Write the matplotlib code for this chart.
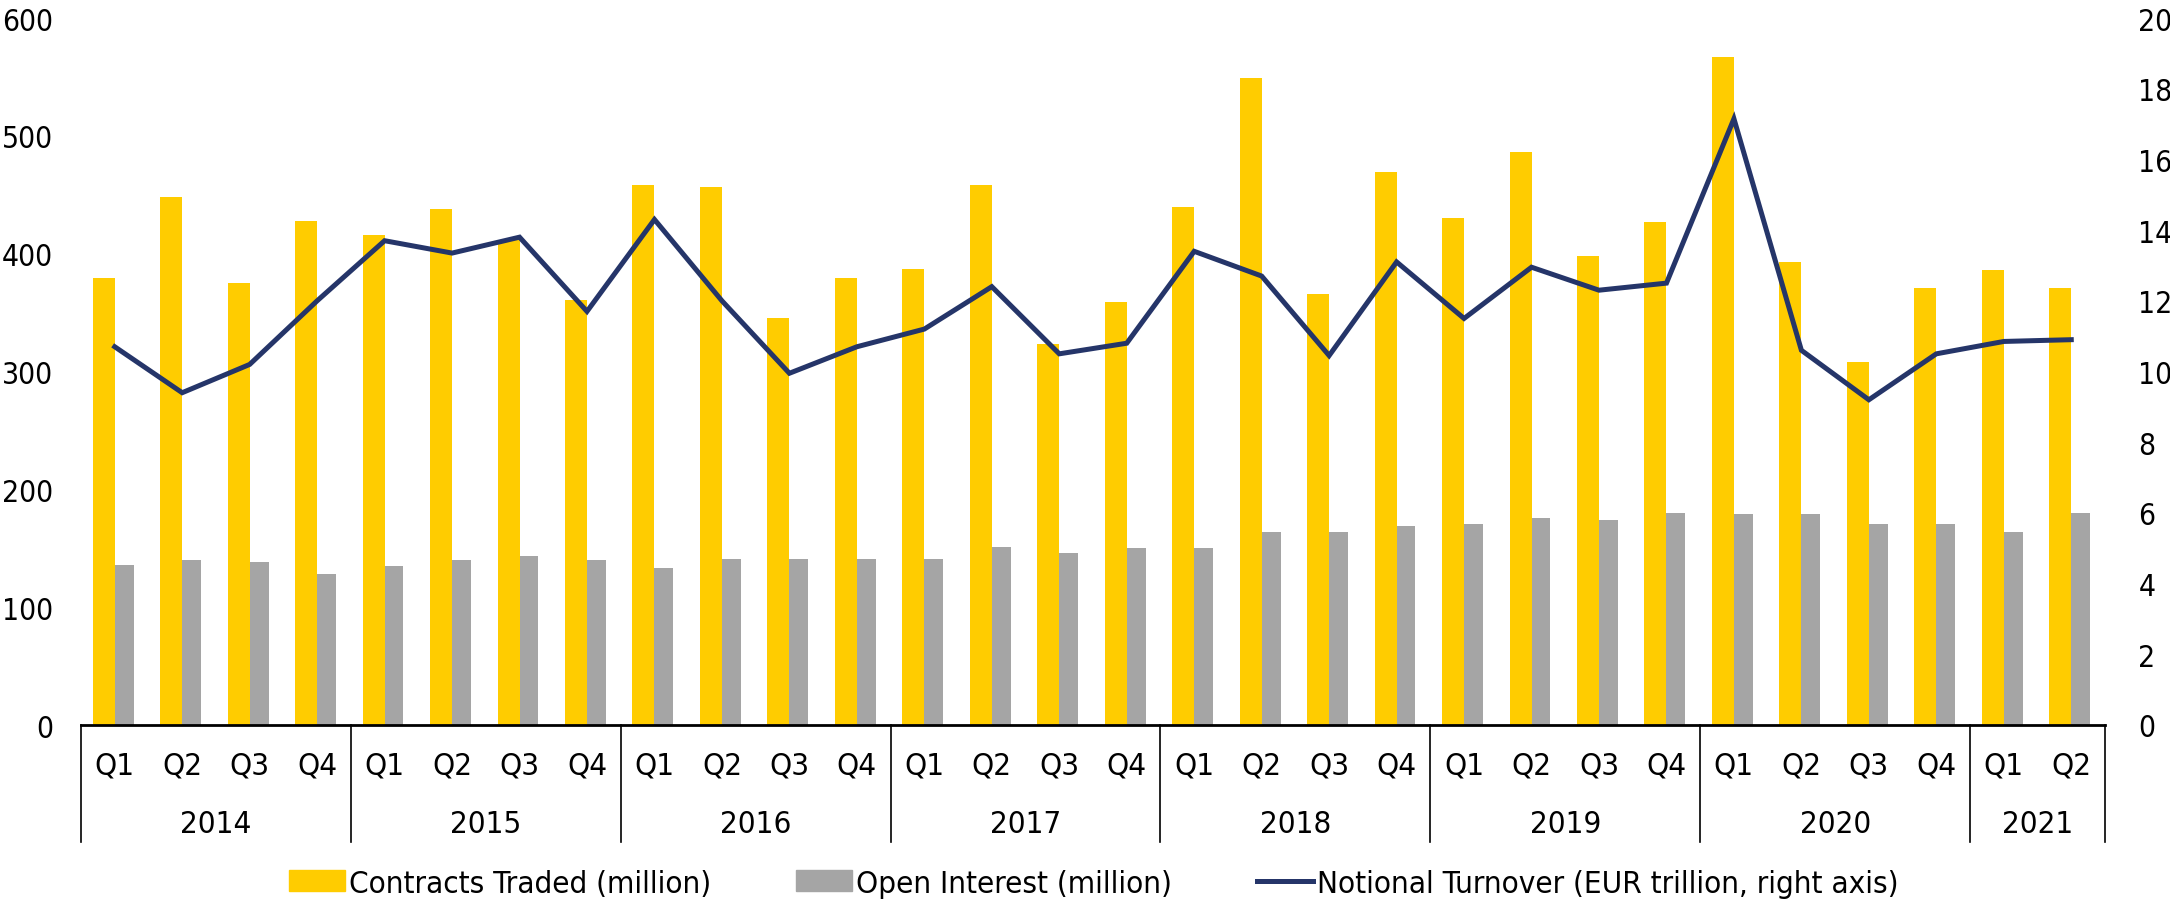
import numpy as np
import matplotlib
matplotlib.use("Agg")
import matplotlib.pyplot as plt
from matplotlib.lines import Line2D
from matplotlib.patches import Patch

plt.rcParams['font.family'] = ['DejaVu Sans']
plt.rcParams['font.stretch'] = 'condensed'

years = ["2014", "2015", "2016", "2017", "2018", "2019", "2020", "2021"]
quarters_per_year = [4, 4, 4, 4, 4, 4, 4, 2]
quarter_labels = ["Q1", "Q2", "Q3", "Q4"] * 7 + ["Q1", "Q2"]

contracts = [379, 448, 375, 428, 416, 438, 412, 361,
             458, 457, 345, 379, 387, 458, 323, 359,
             440, 549, 366, 469, 430, 486, 398, 427,
             567, 393, 308, 371, 386, 371]
open_interest = [136, 140, 138, 128, 135, 140, 143, 140,
                 133, 141, 141, 141, 141, 151, 146, 150,
                 150, 164, 164, 169, 171, 176, 174, 180,
                 179, 179, 171, 171, 164, 180]
turnover = [10.7, 9.4, 10.2, 12.0, 13.7, 13.35, 13.8, 11.7,
            14.3, 12.0, 9.95, 10.7, 11.2, 12.4, 10.5, 10.8,
            13.4, 12.7, 10.45, 13.1, 11.5, 12.95, 12.3, 12.5,
            17.15, 10.6, 9.2, 10.5, 10.85, 10.9]

yellow = "#FFCC00"
grey = "#A5A5A5"
navy = "#253569"
fs = 22.5

fig = plt.figure(figsize=(21.7, 9.03), dpi=100)
ax = fig.add_axes([81 / 2170, 1 - 726 / 903, (2105 - 81) / 2170, (726 - 19) / 903])
ax2 = ax.twinx()

x = np.arange(len(contracts))
ax.bar(x - 0.163, contracts, width=0.326, color=yellow, zorder=2)
ax.bar(x + 0.14, open_interest, width=0.28, color=grey, zorder=2)
ax2.plot(x, turnover, color=navy, lw=3.6, solid_joinstyle="miter", zorder=3)

ax.set_xlim(-0.5, len(contracts) - 0.5)
ax.set_ylim(0, 600)
ax2.set_ylim(0, 20)
ax.set_yticks(range(0, 601, 100))
ax2.set_yticks(range(0, 21, 2))
for a in (ax, ax2):
    for s in ("top", "left", "right"):
        a.spines[s].set_visible(False)
    a.tick_params(axis="y", length=0, labelsize=21.5)
ax.tick_params(axis="y", pad=20)
ax2.tick_params(axis="y", pad=24)
ax2.spines["bottom"].set_visible(False)
ax.spines["bottom"].set_linewidth(2)
ax.set_xticks([])

# quarter and year labels under the axis
trans = ax.get_xaxis_transform()
px = 1 / 707  # one pixel in axes fraction (vertical)
for i, q in enumerate(quarter_labels):
    ax.text(i, -40 * px, q, transform=trans, ha="center", va="center", fontsize=fs)
start = 0
bounds = [-0.5]
for yr, n in zip(years, quarters_per_year):
    ax.text(start + (n - 1) / 2, -99 * px, yr, transform=trans,
            ha="center", va="center", fontsize=fs)
    start += n
    bounds.append(start - 0.5)
for b in bounds:
    ax.add_line(Line2D([b, b], [0, -117 * px], transform=trans, color="black",
                       lw=1.2, clip_on=False))

handles = [Patch(color=yellow, label="Contracts Traded (million)"),
           Patch(color=grey, label="Open Interest (million)"),
           Line2D([], [], color=navy, lw=3.6, label="Notional Turnover (EUR trillion, right axis)")]
fig.legend(handles=handles, loc="center", bbox_to_anchor=(0.504, 0.021), ncol=3,
           frameon=False, fontsize=fs, handlelength=1.8, handleheight=0.67,
           handletextpad=0.13, columnspacing=2.7)

fig.savefig("out.png", dpi=100)
